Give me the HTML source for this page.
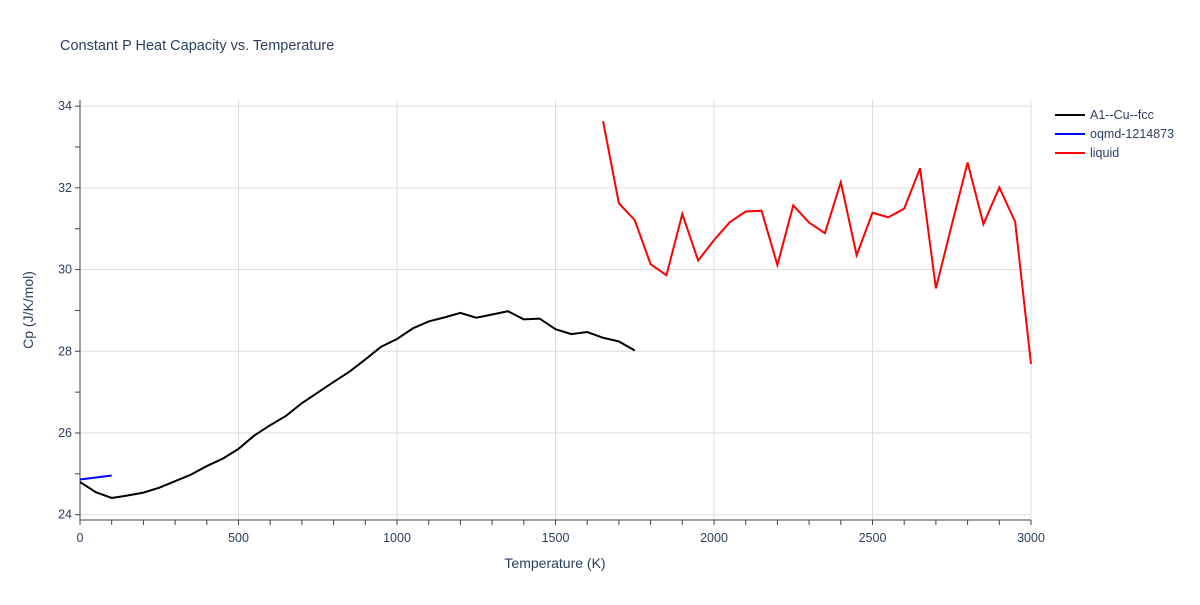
<!DOCTYPE html>
<html><head><meta charset="utf-8"><style>
body{margin:0;background:#fff;font-family:"Liberation Sans",sans-serif}
svg text{font-family:"Liberation Sans",sans-serif}
</style></head><body>
<svg id="chart" width="1200" height="600">
<text x="60" y="50" font-size="14.5" fill="#2a3f5f">Constant P Heat Capacity vs. Temperature</text>
<g id="grid"></g><g id="axes"></g><g id="series"></g><g id="legend"></g>
<text x="555" y="568" font-size="14" fill="#2a3f5f" text-anchor="middle">Temperature (K)</text>
<text transform="translate(33,310) rotate(-90)" font-size="14" fill="#2a3f5f" text-anchor="middle">Cp (J/K/mol)</text>
</svg>
<script>
const fccT=[0,50,100,150,200,250,300,350,400,450,500,550,600,650,700,750,800,850,900,950,1000,1050,1100,1150,1200,1250,1300,1350,1400,1450,1500,1550,1600,1650,1700,1750];
const fccCp=[24.80,24.55,24.41,24.47,24.54,24.66,24.82,24.98,25.19,25.37,25.61,25.94,26.19,26.42,26.73,26.99,27.25,27.50,27.80,28.11,28.30,28.56,28.73,28.83,28.94,28.82,28.90,28.98,28.78,28.80,28.54,28.42,28.47,28.33,28.24,28.02];
const oqmdT=[0,100];
const oqmdCp=[24.86,24.96];
const liqT=[1650,1700,1750,1800,1850,1900,1950,2000,2050,2100,2150,2200,2250,2300,2350,2400,2450,2500,2550,2600,2650,2700,2750,2800,2850,2900,2950,3000];
const liqCp=[33.63,31.62,31.21,30.13,29.86,31.36,30.22,30.72,31.16,31.42,31.44,30.11,31.57,31.15,30.89,32.14,30.35,31.39,31.28,31.49,32.48,29.54,31.09,32.62,31.11,32.01,31.17,27.69];
const xTicks=[0,500,1000,1500,2000,2500,3000];
const yTicks=[24,26,28,30,32,34];
const names=["A1--Cu--fcc","oqmd-1214873","liquid"];
const NS="http://www.w3.org/2000/svg";
const X0=80,X1=1031,Y0=520,Y1=100,xmin=0,xmax=3000,ymin=23.87,ymax=34.15;
const sx=v=>X0+(v-xmin)/(xmax-xmin)*(X1-X0);
const sy=v=>Y0-(v-ymin)/(ymax-ymin)*(Y0-Y1);
function mk(t,a,p){const e=document.createElementNS(NS,t);for(const k in a)e.setAttribute(k,a[k]);p.appendChild(e);return e;}
const grid=document.getElementById('grid'),axes=document.getElementById('axes');
xTicks.forEach(v=>{
 const l=mk('line',{x1:sx(v),x2:sx(v),y1:Y1,y2:Y0,stroke:'#ddd'},grid);
 
 
 const t=mk('text',{x:sx(v),y:Y0+22,'font-size':12.5,fill:'#2a3f5f','text-anchor':'middle'},axes);
 t.textContent=v;
 
 
});
for(let v=0;v<=3000;v+=100){mk('line',{x1:sx(v),x2:sx(v),y1:Y0,y2:Y0+5,stroke:'#444'},axes);}
yTicks.forEach(v=>{
 const l=mk('line',{x1:X0,x2:X1,y1:sy(v),y2:sy(v),stroke:'#ddd'},grid);
 
 
 const t=mk('text',{x:X0-8,y:sy(v)+4,'font-size':12.5,fill:'#2a3f5f','text-anchor':'end'},axes);
 t.textContent=v;
 
 
});
for(let v=24;v<=34;v+=1){mk('line',{x1:X0-5,x2:X0,y1:sy(v),y2:sy(v),stroke:'#444'},axes);}
mk('line',{x1:X0,x2:X1,y1:Y0,y2:Y0,stroke:'#444'},axes);
mk('line',{x1:X0,x2:X0,y1:Y1,y2:Y0,stroke:'#444'},axes);
const ser=document.getElementById('series');
function line(T,C,col,name){
 const p=mk('polyline',{points:T.map((t,i)=>sx(t)+','+sy(C[i])).join(' '),fill:'none',stroke:col,'stroke-width':2},ser);
 
 
}
line(fccT,fccCp,'#000','fcc-line');
line(oqmdT,oqmdCp,'#0000ff','oqmd-line');
line(liqT,liqCp,'#ff0000','liquid-line');
const lg=document.getElementById('legend');
['#000','#0000ff','#ff0000'].forEach((c,i)=>{
 const y=115+i*19;
 const g=mk('g',{},lg);
 
 
 mk('line',{x1:1055,x2:1085,y1:y,y2:y,stroke:c,'stroke-width':2},g);
 const t=mk('text',{x:1090,y:y+4,'font-size':12.5,fill:'#2a3f5f'},g);
 t.textContent=names[i];
});
</script>
</body></html>
